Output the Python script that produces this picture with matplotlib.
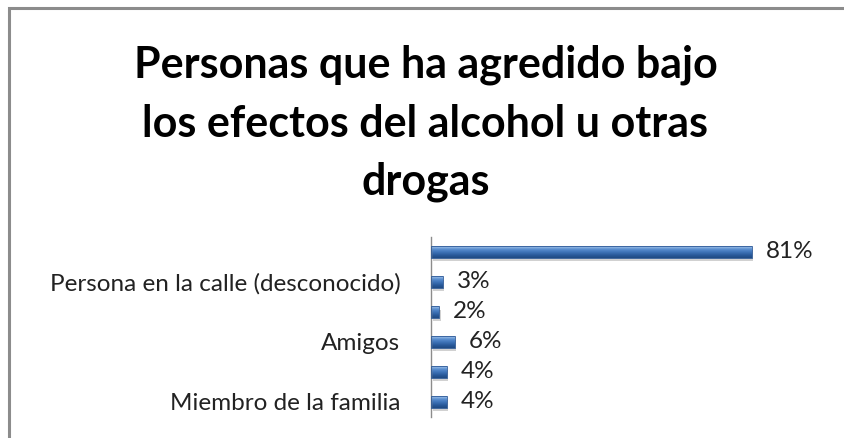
import numpy as np
import matplotlib
matplotlib.use("Agg")
import matplotlib.pyplot as plt
from matplotlib.patches import Rectangle
from matplotlib.colors import LinearSegmentedColormap

# Respuestas (de arriba hacia abajo); solo algunas categorias muestran su etiqueta
categorias = ["", "Persona en la calle (desconocido)", "", "Amigos", "", "Miembro de la familia"]
porcentajes = [81, 3, 2, 6, 4, 4]
titulo = "Personas que ha agredido bajo\nlos efectos del alcohol u otras\ndrogas"

plt.rcParams['font.family'] = ['Lato', 'DejaVu Sans']

fig = plt.figure(figsize=(8.44, 4.38), dpi=100)

# marco gris del grafico
fig.patches.append(Rectangle((9 / 844, -0.01), 1.0, 1 - 8 / 438 + 0.01, transform=fig.transFigure,
                             fill=False, edgecolor='#8c8c8c', linewidth=2.2))

fig.text(0.504, 0.718, titulo, ha='center', va='center', fontsize=31, fontweight='bold',
         linespacing=1.55, color='black')

ax = fig.add_axes([431 / 844, 21 / 438, 396 / 844, 180 / 438])
valores = np.array(porcentajes) / 100
y = np.arange(len(valores))
alto = 0.38

grad = LinearSegmentedColormap.from_list('barra', ['#a9c8ec', '#5b8fd0', '#3f74b8', '#2a5b9c', '#1f4a82'])
g = np.linspace(0, 1, 64).reshape(-1, 1)

for yi, v in zip(y, valores):
    # sombra
    ax.add_patch(Rectangle((0.004, yi - alto / 2 + 0.12), v, alto, facecolor='#000000',
                           alpha=0.18, edgecolor='none', zorder=1))
    ax.imshow(g, cmap=grad, aspect='auto', extent=[0, v, yi + alto / 2, yi - alto / 2],
              zorder=2, interpolation='bilinear')
    ax.add_patch(Rectangle((0, yi - alto / 2), v, alto, fill=False, edgecolor='#2c5896',
                           linewidth=0.6, zorder=3))
    ax.text(v + 0.036, yi, f"{int(round(v * 100))}%", va='center', ha='left',
            fontsize=17.5, color='#222222')

ax.set_xlim(0, 1)
ax.set_ylim(len(valores) - 0.5, -0.5)
ax.set_yticks(y)
ax.set_yticklabels(categorias, fontsize=17.5, color='#222222')
ax.tick_params(axis='y', length=0, pad=22)
ax.set_xticks([])
for lado in ['top', 'right', 'bottom']:
    ax.spines[lado].set_visible(False)
ax.spines['left'].set_color('#8c8c8c')
ax.spines['left'].set_linewidth(1.0)
ax.set_facecolor('none')

fig.savefig('out.png', dpi=100)
